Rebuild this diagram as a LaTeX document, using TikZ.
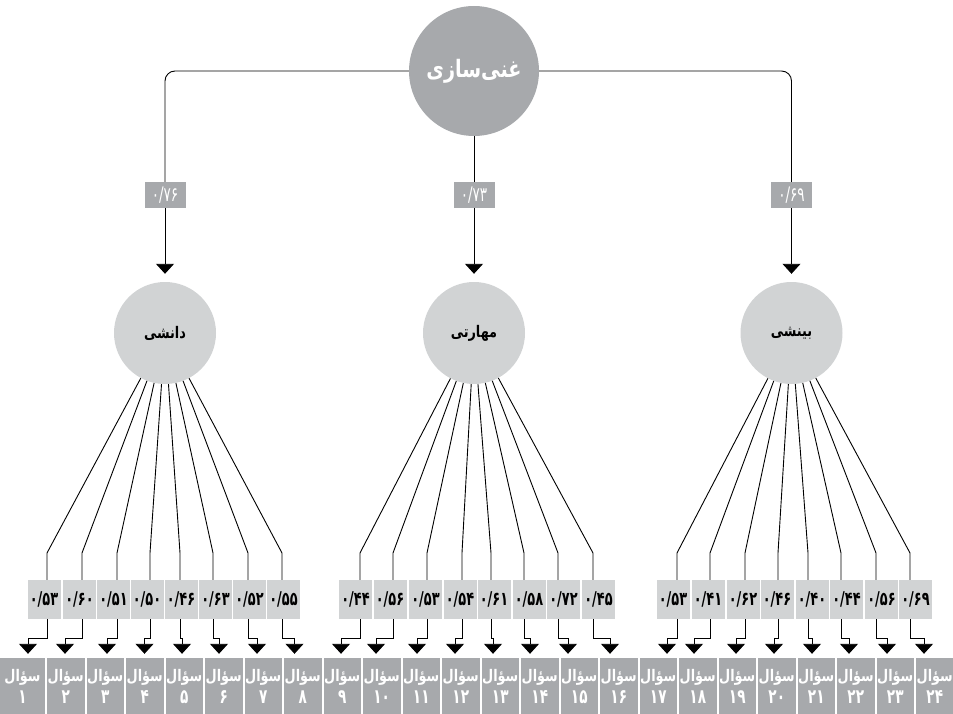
\documentclass[tikz,border=0pt]{standalone}
\usepackage{fontspec}
\TeXXeTstate=1
\newfontfamily\arabicfont[Script=Arabic, FakeStretch=0.8]{DejaVu Sans}
\newfontfamily\digitfont[FakeStretch=0.68]{DejaVu Sans}
\usetikzlibrary{arrows.meta}
\definecolor{midgrey}{HTML}{A7A9AC}
\definecolor{lightgrey}{HTML}{D1D3D4}
\tikzset{
 topcirc/.style={circle, fill=midgrey, minimum size=130pt, inner sep=0pt, text=white, font=\arabicfont\bfseries\fontsize{24}{26}\selectfont},
 subcirc/.style={circle, fill=lightgrey, minimum size=102pt, inner sep=0pt, font=\arabicfont\bfseries\fontsize{16}{18}\selectfont},
 toplbl/.style={fill=midgrey, minimum width=41pt, minimum height=26pt, inner sep=0pt, text=white, font=\digitfont\fontsize{20}{22}\selectfont},
 lbl/.style={fill=lightgrey, minimum width=33pt, minimum height=39pt, inner sep=0pt, font=\digitfont\bfseries\fontsize{19}{20}\selectfont},
 qbox/.style={fill=midgrey, minimum height=56pt, inner sep=0pt, text=white, align=center, font=\bfseries\fontsize{16}{22}\selectfont},
 conn/.style={draw=black, line width=0.9pt},
 arr/.style={conn, -{Triangle[width=18pt,length=10pt]}},
}
\begin{document}
\begin{tikzpicture}[x=1pt,y=-1pt]
\useasboundingbox (0,0) rectangle (953,714);
% concept circles
\node[topcirc] (top) at (474,71) {\beginR غنی‌سازی\endR};
\node[subcirc] (k1) at (165,333) {\beginR دانشی\endR};
\node[subcirc] (k2) at (474,333) {\beginR مهارتی\endR};
\node[subcirc] (k3) at (791.5,333) {\beginR بینشی\endR};
% top loadings
\node[toplbl] (t1) at (165,195) {۰/۷۶};
\node[toplbl] (t2) at (474,195) {۰/۷۳};
\node[toplbl] (t3) at (791.5,195) {۰/۶۹};
\draw[conn] (top.south) -- (t2.north);
\draw[conn, rounded corners=10pt] (top.west) -- (top.west -| t1) -- (t1.north);
\draw[conn, rounded corners=10pt] (top.east) -- (top.east -| t3) -- (t3.north);
\draw[arr, shorten >=8pt] (t1.south) -- (k1.north);
\draw[arr, shorten >=8pt] (t2.south) -- (k2.north);
\draw[arr, shorten >=8pt] (t3.south) -- (k3.north);
% question boxes
\foreach \n/\num in {1/۱,2/۲,3/۳,4/۴,5/۵,6/۶,7/۷,8/۸,9/۹,10/۱۰,11/۱۱,12/۱۲,13/۱۳,14/۱۴,15/۱۵,16/۱۶,17/۱۷,18/۱۸,19/۱۹,20/۲۰,21/۲۱,22/۲۲,23/۲۳,24/۲۴}{
  \pgfmathsetmacro\qcx{ifthenelse(\n==1, 22.5, 65.75+39.5*(\n-2))}
  \pgfmathsetmacro\qw{ifthenelse(\n==1, 45, 37.5)}
  \node[qbox, minimum width=\qw pt] (q\n) at (\qcx,686) {{\arabicfont\beginR سؤال\endR}\\{\digitfont\fontsize{20}{22}\selectfont \num}};
}
% item loadings and connectors
\foreach \n/\lx/\bx/\ax/\val in {
 1/44/47/28/۵۳, 2/79.5/82/65/۶۰, 3/113.5/117/107/۵۱, 4/147/150/144.5/۵۰,
 5/181/180/182/۴۶, 6/215.5/213/219/۶۳, 7/249.5/248/257/۵۲, 8/283.5/282/294.5/۵۵,
 9/355.5/360/341/۴۴, 10/390/393/376/۵۶, 11/425.5/427/417/۵۳, 12/460/462/455/۵۴,
 13/494/491/493/۶۱, 14/529/524/530/۵۸, 15/563.5/558/568/۷۲, 16/598.5/593/610/۴۵,
 17/673/677/667/۵۳, 18/708/710/694/۴۱, 19/743/745/736/۶۲, 20/777/778/774/۴۶,
 21/812/808/812/۴۰, 22/846.5/841/849/۴۴, 23/881.5/876/887/۵۶, 24/915.5/910/924/۶۹}{
  \pgfmathtruncatemacro\g{(\n-1)/8+1}
  \node[lbl] (l\n) at (\lx,599.5) {۰/\val};
  \coordinate (b\n) at (\bx,553);
  \coordinate (h\n) at (\bx,638);
  \coordinate (a\n) at (\ax,638);
  \draw[conn] (k\g) -- (b\n) -- (b\n |- l\n.north);
  \draw[arr, shorten >=4pt] (b\n |- l\n.south) -- (h\n) -- (a\n) -- (a\n |- q\n.north);
}
\end{tikzpicture}
\end{document}
